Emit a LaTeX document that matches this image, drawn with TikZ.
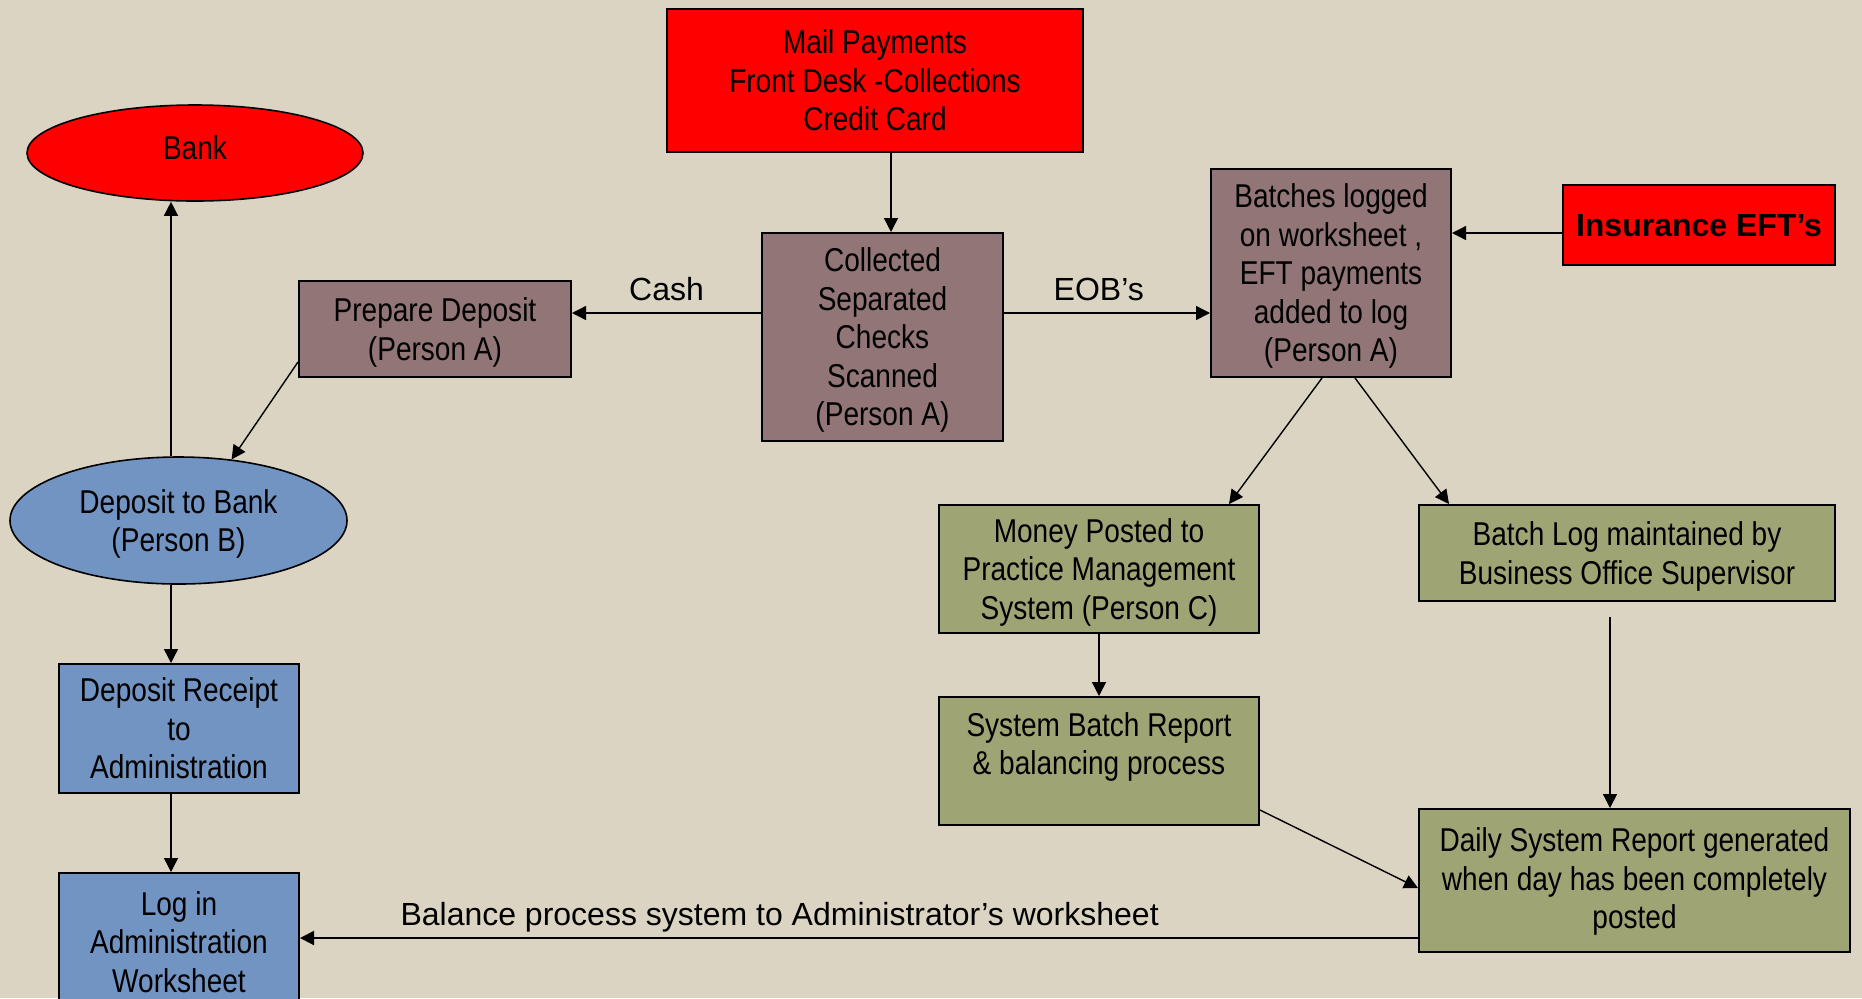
\documentclass[tikz,border=0pt]{standalone}
\usepackage{fontspec}
\setmainfont{Liberation Sans}
\newfontfamily\narrowfont{Liberation Sans}[FakeStretch=0.85]
\usetikzlibrary{arrows.meta,shapes.geometric}
\definecolor{paper}{RGB}{219,212,195}
\definecolor{redfill}{RGB}{255,0,0}
\definecolor{mauve}{RGB}{146,117,118}
\definecolor{steel}{RGB}{114,148,194}
\definecolor{olivegreen}{RGB}{159,164,117}

\begin{document}
\begin{tikzpicture}[x=0.5pt,y=-0.5pt,->,>={Triangle[length=7pt,width=7pt]},line width=0.7pt]
    \tikzstyle{box}=[rectangle,draw=black,line width=1pt,inner sep=0pt,align=center,text depth=-3pt,
        font=\narrowfont\fontsize{16.5}{19.25}\selectfont]
    \tikzstyle{red box}=[box,fill=redfill]
    \tikzstyle{mauve box}=[box,fill=mauve]
    \tikzstyle{blue box}=[box,fill=steel]
    \tikzstyle{olive box}=[box,fill=olivegreen]
    \tikzstyle{oval}=[box,ellipse,line width=0.8pt]
    \tikzstyle{annot}=[font=\fontsize{16}{19}\selectfont,anchor=base,yshift=6.25pt,inner sep=0pt]

    % Page
    \fill[paper] (0,0) rectangle (1862,998);
    \useasboundingbox (0,0) rectangle (1862,998);

    % Sources
    \node[red box, minimum width=208pt, minimum height=71.5pt, text depth=0pt] (mail) at (875,80.5)
        {Mail Payments\\Front Desk -Collections\\Credit Card};
    \node[red box, minimum width=136pt, minimum height=40pt, text depth=0pt,
        font=\bfseries\fontsize{16}{19}\selectfont] (eft) at (1699,225) {Insurance EFT’s};
    \node[oval, fill=redfill, minimum width=168pt, minimum height=48pt, text depth=5.4pt] (bank) at (195,153) {Bank};

    % Person A steps
    \node[mauve box, minimum width=120.5pt, minimum height=104pt] (coll) at (882.5,337)
        {Collected\\Separated\\Checks\\Scanned\\(Person A)};
    \node[mauve box, minimum width=136pt, minimum height=48pt] (prep) at (435,329)
        {Prepare Deposit\\(Person A)};
    \node[mauve box, minimum width=120pt, minimum height=104pt] (batches) at (1331,273)
        {Batches logged\\on worksheet ,\\EFT payments\\added to log\\(Person A)};

    % Deposit side
    \node[oval, fill=steel, minimum width=168.5pt, minimum height=63.5pt] (depbank) at (178.5,520.5)
        {Deposit to Bank\\(Person B)};
    \node[blue box, minimum width=120pt, minimum height=64.5pt] (receipt) at (179,728.5)
        {Deposit Receipt\\to\\Administration};
    \node[blue box, minimum width=120pt, minimum height=69pt] (login) at (179,942)
        {Log in\\Administration\\Worksheet};

    % Posting side
    \node[olive box, minimum width=160pt, minimum height=64pt] (money) at (1099,569)
        {Money Posted to\\Practice Management\\System (Person C)};
    \node[olive box, minimum width=208pt, minimum height=48pt] (batchlog) at (1627,553)
        {Batch Log maintained by\\Business Office Supervisor};
    \node[olive box, minimum width=160pt, minimum height=64pt, text depth=0pt] (sysbatch) at (1099,761)
        {System Batch Report\\\& balancing process\\[-2pt]\mbox{}};
    \node[olive box, minimum width=215.5pt, minimum height=71.5pt, text depth=2pt] (daily) at (1634.5,880.5)
        {Daily System Report generated\\when day has been completely\\posted};

    % Payments in
    \draw ([xshift=4.25pt]coll.north |- mail.south) -- ([xshift=4.25pt]coll.north);
    \draw ([yshift=8pt]prep.east -| coll.west) -- node[annot] {Cash} ([yshift=8pt]prep.east);
    \draw ([yshift=8pt]prep.east -| coll.east) -- node[annot,pos=0.46] {EOB’s}
        ([yshift=8pt]prep.east -| batches.west);
    \draw ([yshift=-4pt]eft.west) -- ([yshift=-4pt]eft.west -| batches.east);

    % Cash goes to the bank
    \draw ([yshift=-16.5pt]prep.west) -- (depbank.49);
    \draw ([xshift=-3.75pt]depbank.north) -- ([xshift=-3.75pt]depbank.north |- bank.south);
    \foreach \source/\dest in {depbank/receipt, receipt/login}
        \draw ([xshift=-4pt]\dest.north |- \source.south) -- ([xshift=-4pt]\dest.north);

    % Batches are posted and balanced
    \draw ([xshift=-4.5pt]batches.south) -- ([xshift=-15.5pt]money.north east);
    \draw ([xshift=12pt]batches.south) -- ([xshift=15.5pt]batchlog.north west);
    \draw (money) -- (sysbatch);
    \draw[shorten <=7.5pt] ([xshift=-8.5pt]batchlog.south) -- ([xshift=-8.5pt]batchlog.south |- daily.north);
    \draw ([yshift=8pt]sysbatch.south east) -- ([yshift=-3.75pt]daily.west);
    \draw[line width=1pt] ([yshift=7.5pt]daily.south west) --
        node[annot,pos=0.571] {Balance process system to Administrator’s worksheet}
        ([yshift=7.5pt]daily.south west -| login.east);
\end{tikzpicture}
\end{document}
